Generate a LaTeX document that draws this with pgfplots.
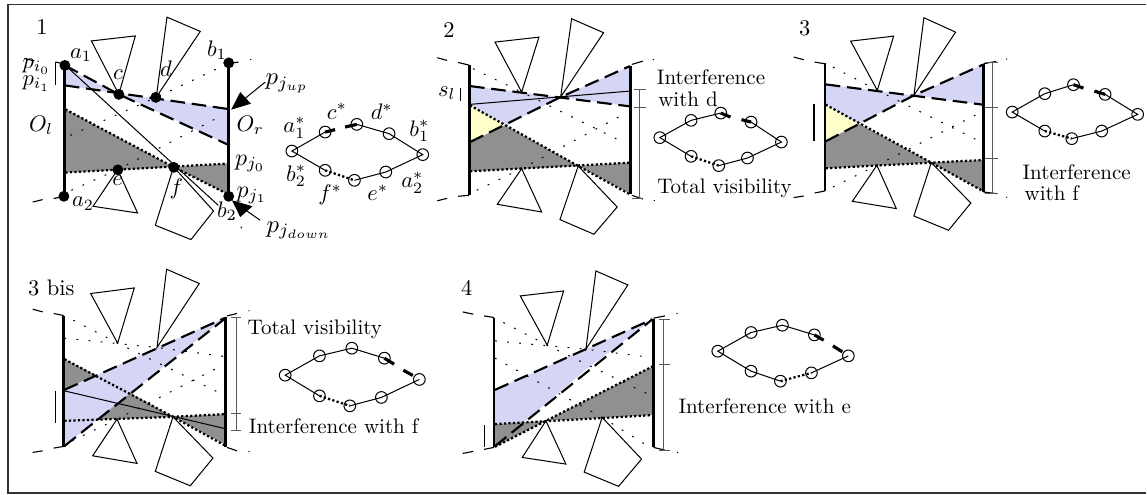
\documentclass[border=0pt]{standalone}
\usepackage{pgfplots}
\pgfplotsset{compat=1.18}
\definecolor{vblue}{RGB}{213,213,245}
\definecolor{vgray}{RGB}{144,144,144}
\definecolor{vyellow}{RGB}{255,255,204}
\tikzset{
  wall/.style={black,line width=1.3pt},
  thin line/.style={black,line width=0.45pt},
  brack/.style={black!65,line width=0.5pt},
  dash line/.style={black,line width=0.95pt,dash pattern=on 6.5pt off 3pt},
  dot line/.style={black,line width=1pt,dash pattern=on 1pt off 1pt},
  sparse/.style={black,line width=0.45pt,dash pattern=on 0.8pt off 4.6pt},
  stub/.style={black,line width=0.5pt},
  thick dash/.style={black,line width=1.4pt},
  lbl/.style={inner sep=0pt,anchor=center},
  txt/.style={inner sep=0pt,anchor=west,scale=0.935},
  plabel/.style={inner sep=0pt,anchor=west,scale=1.1},
}
\begin{document}
\begin{tikzpicture}
\begin{axis}[
  scale only axis,
  width=509.8pt,
  height=219.6pt,
  xmin=0,xmax=1147,
  ymin=0,ymax=494,
  y dir=reverse,
  hide axis,
  clip=false,
]
% page background and frame
\addplot[white,fill=white] coordinates {(0,0) (1147,0) (1147,494) (0,494)} -- cycle;
\addplot[black!80,line width=0.55pt] coordinates {(1147,4) (7.5,4) (7.5,493) (1147,493)};

% ---- panel 1 ----
\addplot[fill=vblue,draw=none] coordinates {(65,68) (118,93) (227,108) (227,144) (118,93) (65,85)} -- cycle;
\addplot[fill=vgray,draw=none] coordinates {(65,109) (65,172.3) (173.3,166.7) (226.7,163.3) (226.7,193.3) (173.3,166.7)} -- cycle;
\addplot[thin line] coordinates {(91,40.5) (135,35.5) (118.5,94)} -- cycle;
\addplot[thin line] coordinates {(166.7,16.7) (200,31) (156,96.7)} -- cycle;
\addplot[thin line] coordinates {(117.3,169.3) (92.7,206) (137.3,212.7)} -- cycle;
\addplot[thin line] coordinates {(173.3,166.7) (213.3,210.7) (190.7,239.3) (155,225)} -- cycle;
\addplot[sparse] coordinates {(70,135) (156,97) (226,64)};
\addplot[sparse] coordinates {(71,190) (117.3,169.3) (222,115)};
\addplot[sparse] coordinates {(233,217) (245,232)};
\addplot[dash line] coordinates {(64.5,65) (118.5,94) (227,144)};
\addplot[dash line] coordinates {(64.5,85) (227,108.5)};
\addplot[dot line] coordinates {(65,109) (173.3,166.7) (227,193.5)};
\addplot[dot line] coordinates {(65,172.3) (227,163.3)};
\addplot[thin line] coordinates {(65,65) (218,205)};
\addplot[wall] coordinates {(64,65) (64,196)};
\addplot[wall] coordinates {(228.3,62.7) (228.3,196)};
\addplot[stub] coordinates {(24,58) (34,60.5)};
\addplot[stub] coordinates {(55,61.7) (63.3,63.3)};
\addplot[stub] coordinates {(32.3,201.7) (42.3,199.3)};
\addplot[stub] coordinates {(53.3,198.3) (63.3,196)};
\addplot[stub] coordinates {(230,62.7) (238.3,61.7)};
\addplot[sparse] coordinates {(250,59) (251,58.8)};
\addplot[thin line] coordinates {(55,62) (55,85)};
\addplot[only marks,mark=*,mark size=2.2pt,black] coordinates {(64.5,65) (63.5,196) (228.5,62.5) (228.5,196) (118.5,94) (155.5,97) (117.5,169.5) (173.5,167)};
\addplot[thin line] coordinates {(265,81.7) (235,106)};
\addplot[fill=black,draw=none] coordinates {(231,109.3) (240,91.7) (250.7,103.3)} -- cycle;
\addplot[thin line] coordinates {(260,220) (240,206)};
\addplot[fill=black,draw=none] coordinates {(231.7,200) (252.3,206) (240,216.7)} -- cycle;
% dual of panel 1
\addplot[thin line] coordinates {(325,131.7) (291.7,150.7) (325,170)};
\addplot[thin line] coordinates {(356.7,124) (389,133.3) (422.7,154.3) (385.7,171.7) (354.3,180)};
\addplot[thick dash] coordinates {(325,131.7) (335,129.3)};
\addplot[thick dash] coordinates {(345,126.7) (356.7,124)};
\addplot[dot line] coordinates {(325,170) (354.3,180)};
\addplot[only marks,mark=o,mark size=2.6pt,black,mark options={line width=0.45pt}] coordinates {(291.7,150.7) (325,131.7) (356.7,124) (389,133.3) (422.7,154.3) (385.7,171.7) (354.3,180) (325,170)};

% ---- panel 2 ----
\addplot[fill=vblue,draw=none] coordinates {(470,85.7) (560.7,96.7) (630,65.7) (630,106) (560.7,96.7) (506,125) (470,105)} -- cycle;
\addplot[fill=vyellow,draw=none] coordinates {(470,105) (505,125) (470,141.7)} -- cycle;
\addplot[fill=vgray,draw=none] coordinates {(470,141.7) (505,125) (578.3,165.7) (630,193.3) (630,162.3) (578.3,165.7) (470,171)} -- cycle;
\addplot[thin line] coordinates {(495,41.7) (539,36.7) (521.7,91.7)} -- cycle;
\addplot[thin line] coordinates {(571.7,18.3) (603.7,32.3) (560.7,96.7)} -- cycle;
\addplot[thin line] coordinates {(521.7,168.3) (497.3,204) (541.7,211.7)} -- cycle;
\addplot[thin line] coordinates {(578.3,165.7) (617.3,206.7) (594,234) (560,219.3)} -- cycle;
\addplot[sparse] coordinates {(473,68.3) (521.7,91.7) (625,142.7)};
\addplot[sparse] coordinates {(476.7,190) (521.7,168.3) (625,113.3)};
\addplot[dash line] coordinates {(470,85.7) (630,106)};
\addplot[dash line] coordinates {(470,141.7) (560.7,96.7) (630,65.7)};
\addplot[dot line] coordinates {(470,105) (578.3,165.7) (630,194)};
\addplot[dot line] coordinates {(470,171) (630,162.3)};
\addplot[thin line] coordinates {(470,104) (630,90.7)};
\addplot[wall] coordinates {(469.3,65) (469.3,195)};
\addplot[wall] coordinates {(630.7,65.7) (630.7,194)};
\addplot[stub] coordinates {(437.3,57.3) (447,60)};
\addplot[stub] coordinates {(458,62) (469,64.7)};
\addplot[stub] coordinates {(437.3,200.5) (447,198)};
\addplot[stub] coordinates {(458,196) (469,195)};
\addplot[stub] coordinates {(632,64) (643,60.7)};
\addplot[stub] coordinates {(632,195) (643,198.7)};
\addplot[sparse] coordinates {(653,59.3) (654,59)};
\addplot[sparse] coordinates {(654,200) (655,200.3)};
\addplot[brack] coordinates {(639.3,89.3) (639.3,198)};
\addplot[brack] coordinates {(634,89.3) (646,89.3)};
\addplot[brack] coordinates {(634,107.3) (646,107.3)};
\addplot[brack] coordinates {(632,198) (642,198)};
\addplot[thin line] coordinates {(460,88) (460,101)};
% dual of panel 2
\addplot[thin line] coordinates {(721,112.7) (691.3,120) (660,137.3) (691.3,156)};
\addplot[thin line] coordinates {(751.3,121.7) (781.7,141.7) (747.7,157.7) (719,165.3)};
\addplot[thick dash] coordinates {(721,112.7) (730.7,116.7)};
\addplot[thick dash] coordinates {(741.7,119.3) (751.3,121.7)};
\addplot[dot line] coordinates {(691.3,156) (719,165.3)};
\addplot[only marks,mark=o,mark size=2.6pt,black,mark options={line width=0.45pt}] coordinates {(660,137.3) (691.3,120) (721,112.7) (751.3,121.7) (781.7,141.7) (747.7,157.7) (719,165.3) (691.3,156)};

% ---- panel 3 ----
\addplot[fill=vblue,draw=none] coordinates {(826,84) (914.3,95) (983.3,64.3) (983.3,104.3) (914.3,95) (859.3,123.3) (826,104.3)} -- cycle;
\addplot[fill=vyellow,draw=none] coordinates {(826,104.3) (859.3,123.3) (826,141)} -- cycle;
\addplot[fill=vgray,draw=none] coordinates {(826,141) (859.3,123.3) (931.7,162.3) (983.3,190.7) (983.3,159.7) (931.7,162.3) (826,168)} -- cycle;
\addplot[thin line] coordinates {(851,40.7) (894,35.7) (877.7,90)} -- cycle;
\addplot[thin line] coordinates {(924.3,17.3) (956,31.7) (914.3,95)} -- cycle;
\addplot[thin line] coordinates {(877.3,165) (852.7,201) (896.7,208.3)} -- cycle;
\addplot[thin line] coordinates {(931.7,162.3) (971.3,202.7) (949,230) (914.3,215.7)} -- cycle;
\addplot[sparse] coordinates {(833.3,66.7) (877.7,90) (981.7,141.7)};
\addplot[sparse] coordinates {(833.3,186.7) (877.3,165) (981.7,111.7)};
\addplot[dash line] coordinates {(826,84) (983.3,104.3)};
\addplot[dash line] coordinates {(826,141) (914.3,95) (983.3,64.3)};
\addplot[dot line] coordinates {(826,104.3) (931.7,162.3) (983.3,190.7)};
\addplot[dot line] coordinates {(826,168) (931.7,162.3) (983.3,159.7)};
\addplot[wall] coordinates {(825.3,62.7) (825.3,190.7)};
\addplot[wall] coordinates {(984,63.3) (984,191.7)};
\addplot[stub] coordinates {(794,56.7) (804,59.3)};
\addplot[stub] coordinates {(815,61.7) (825,63.3)};
\addplot[stub] coordinates {(794,197.3) (804,195.7)};
\addplot[stub] coordinates {(815,192.7) (825,190.7)};
\addplot[stub] coordinates {(984,63.3) (996.7,61)};
\addplot[stub] coordinates {(984,191.7) (996.7,193.3)};
\addplot[sparse] coordinates {(1006.7,58.7) (1007.7,58.5)};
\addplot[sparse] coordinates {(1006.7,196.7) (1007.7,197)};
\addplot[brack] coordinates {(992.7,62) (992.7,193)};
\addplot[brack] coordinates {(985,62) (998.3,62)};
\addplot[brack] coordinates {(985,106.7) (998.3,106.7)};
\addplot[brack] coordinates {(985,158.3) (998.3,158.3)};
\addplot[brack] coordinates {(985,193) (998.3,193)};
\addplot[thin line] coordinates {(814.3,103.3) (814.3,141)};
% dual of panel 3
\addplot[thin line] coordinates {(1074,84.3) (1045.3,93.3) (1012.7,111.7) (1045.3,130.7)};
\addplot[thin line] coordinates {(1105.7,94) (1138.3,114) (1102.3,130.7) (1072.3,138.3)};
\addplot[thick dash] coordinates {(1074,84.3) (1084,87.7)};
\addplot[thick dash] coordinates {(1095,90.7) (1105.7,94)};
\addplot[dot line] coordinates {(1045.3,130.7) (1072.3,138.3)};
\addplot[only marks,mark=o,mark size=2.6pt,black,mark options={line width=0.45pt}] coordinates {(1012.7,111.7) (1045.3,93.3) (1074,84.3) (1105.7,94) (1138.3,114) (1102.3,130.7) (1072.3,138.3) (1045.3,130.7)};

% ---- panel 3 bis ----
\addplot[fill=vblue,draw=none] coordinates {(64,389.7) (156.7,347.3) (224,318) (130,393) (96.7,419.7) (64,445.7)} -- cycle;
\addplot[fill=vgray,draw=none] coordinates {(64,359) (64,389.7) (95,374.7)} -- cycle;
\addplot[fill=vgray,draw=none] coordinates {(130,393) (172.7,416.7) (96.7,419.7)} -- cycle;
\addplot[fill=vgray,draw=none] coordinates {(172.7,416.7) (224,414) (224,444)} -- cycle;
\addplot[thin line] coordinates {(90.3,293.3) (134,287.7) (117.3,343)} -- cycle;
\addplot[thin line] coordinates {(166.3,269) (199,283.3) (156.7,347.3)} -- cycle;
\addplot[thin line] coordinates {(116.7,419) (92.3,455.7) (136.7,463.3)} -- cycle;
\addplot[thin line] coordinates {(172.7,416.7) (212.7,458) (190,485.7) (155,471.3)} -- cycle;
\addplot[sparse] coordinates {(73,320) (117.3,343) (222,394)};
\addplot[sparse] coordinates {(64,338) (156.7,347.3) (224,356.3)};
\addplot[sparse] coordinates {(71.7,440.7) (116.7,419) (218,367.3)};
\addplot[dash line] coordinates {(64,389.7) (224,318)};
\addplot[dash line] coordinates {(64,446) (224,319)};
\addplot[dot line] coordinates {(64,359) (172.7,416.7) (224,445)};
\addplot[dot line] coordinates {(64,420.7) (172.7,416.7) (224,414)};
\addplot[thin line] coordinates {(64,390.7) (224,428.3)};
\addplot[wall] coordinates {(63.3,315.7) (63.3,446.7)};
\addplot[wall] coordinates {(225.7,316.7) (225.7,447.3)};
\addplot[stub] coordinates {(32.3,309) (42.3,311.7)};
\addplot[stub] coordinates {(53.3,313.3) (63.3,315.3)};
\addplot[stub] coordinates {(32.3,452.3) (42.3,450.7)};
\addplot[stub] coordinates {(53.3,448) (63.3,446.3)};
\addplot[stub] coordinates {(226.7,315.7) (236.7,313.3)};
\addplot[stub] coordinates {(226.7,447.3) (236.7,450.7)};
\addplot[sparse] coordinates {(248.3,310.7) (249.3,310.5)};
\addplot[sparse] coordinates {(248.3,451.3) (249.3,451.6)};
\addplot[brack] coordinates {(236,317.3) (236,430.7)};
\addplot[brack] coordinates {(231,317.3) (241,317.3)};
\addplot[brack] coordinates {(231,413) (241,413)};
\addplot[brack] coordinates {(231,430.7) (241,430.7)};
\addplot[thin line] coordinates {(55,390.7) (55,423.3)};
% dual of panel 3 bis
\addplot[thin line] coordinates {(384.3,358) (351.7,348) (319.3,355.7) (285,375) (319.3,395.7)};
\addplot[thin line] coordinates {(349.7,405.7) (381.3,397.3) (419.3,379.3)};
\addplot[thick dash] coordinates {(384.3,358) (394,364)};
\addplot[thick dash] coordinates {(403.3,370) (412.7,375.3)};
\addplot[dot line] coordinates {(319.3,395.7) (349.7,405.7)};
\addplot[only marks,mark=o,mark size=2.6pt,black,mark options={line width=0.45pt}] coordinates {(285,375) (319.3,355.7) (351.7,348) (384.3,358) (419.3,379.3) (381.3,397.3) (349.7,405.7) (319.3,395.7)};

% ---- panel 4 ----
\addplot[fill=vblue,draw=none] coordinates {(495,389.7) (586,349) (652.7,319) (586.7,369) (523.3,422.3) (495,423.3)} -- cycle;
\addplot[fill=vgray,draw=none] coordinates {(495,424) (546,420.7) (495,446.7)} -- cycle;
\addplot[fill=vgray,draw=none] coordinates {(546,420.7) (652.7,366.3) (652.7,415)} -- cycle;
\addplot[thin line] coordinates {(520.3,295.7) (563.7,290.7) (547.3,345)} -- cycle;
\addplot[thin line] coordinates {(596,270.7) (628,284.7) (586,349)} -- cycle;
\addplot[thin line] coordinates {(546,420.7) (522.3,457.3) (566,464)} -- cycle;
\addplot[thin line] coordinates {(602.3,417.3) (641.7,459) (618.7,486.3) (584.3,472)} -- cycle;
\addplot[sparse] coordinates {(503.3,322.3) (547.3,345) (651.7,395.7)};
\addplot[sparse] coordinates {(495,340.7) (586,349) (651.7,357.3)};
\addplot[sparse] coordinates {(495,358) (602.3,417.3) (645,444)};
\addplot[dash line] coordinates {(495,389.7) (652.7,319)};
\addplot[dash line] coordinates {(495,446) (652.7,319)};
\addplot[dot line] coordinates {(495,424) (652.7,415)};
\addplot[dot line] coordinates {(495,446.7) (546,420.7) (652.7,366.3)};
\addplot[wall] coordinates {(494,318) (494,447.3)};
\addplot[wall] coordinates {(653.7,319) (653.7,447.3)};
\addplot[stub] coordinates {(462.7,311.7) (473.3,314)};
\addplot[stub] coordinates {(484,315.7) (494,317.3)};
\addplot[stub] coordinates {(462.7,453.3) (473.3,451.3)};
\addplot[stub] coordinates {(484,449.3) (494,447.3)};
\addplot[stub] coordinates {(653.7,318) (665,315.7)};
\addplot[stub] coordinates {(653.7,447.3) (665,450)};
\addplot[sparse] coordinates {(676.7,313.3) (677.7,313.1)};
\addplot[sparse] coordinates {(677.3,452.3) (678.3,452.6)};
\addplot[brack] coordinates {(664,319) (664,450)};
\addplot[brack] coordinates {(659,319) (670,319)};
\addplot[brack] coordinates {(659,364) (670,364)};
\addplot[brack] coordinates {(659,450) (670,450)};
\addplot[thin line] coordinates {(484.3,425) (484.3,447.3)};
% dual of panel 4
\addplot[thin line] coordinates {(814.7,334.7) (782.7,325) (751.3,332.3) (718,351) (751.3,371) (780.7,381)};
\addplot[thin line] coordinates {(811.7,372.7) (848.7,355.7)};
\addplot[thick dash] coordinates {(814.7,334.7) (824,340)};
\addplot[thick dash] coordinates {(833.3,345.7) (842.7,351.7)};
\addplot[dot line] coordinates {(780.7,381) (811.7,372.7)};
\addplot[only marks,mark=o,mark size=2.6pt,black,mark options={line width=0.45pt}] coordinates {(718,351) (751.3,332.3) (782.7,325) (814.7,334.7) (848.7,355.7) (811.7,372.7) (780.7,381) (751.3,371)};

% ---- text ----
\node[lbl] at (axis cs:41.7,26.7) {1};
\node[lbl] at (axis cs:449,30) {2};
\node[lbl] at (axis cs:805,28) {3};
\node[inner sep=0pt,anchor=west] at (axis cs:27.3,287.3) {3 bis};
\node[lbl] at (axis cs:466.7,287.3) {4};
\node[lbl] at (axis cs:80.7,55) {$a_1$};
\node[lbl] at (axis cs:82.7,203.3) {$a_2$};
\node[lbl] at (axis cs:216.7,50) {$b_1$};
\node[lbl] at (axis cs:226.7,210.7) {$b_2$};
\node[lbl] at (axis cs:117.7,74) {$c$};
\node[lbl] at (axis cs:165.7,68.3) {$d$};
\node[lbl] at (axis cs:117.3,180) {$e$};
\node[lbl] at (axis cs:176,188.3) {$f$};
\node[lbl] at (axis cs:40.7,125) {$O_l$};
\node[lbl] at (axis cs:250,125) {$O_r$};
\node[lbl] at (axis cs:36,66) {$p_{i_0}$};
\node[lbl] at (axis cs:36,83) {$p_{i_1}$};
\node[lbl,scale=1.06] at (axis cs:250,163.3) {$p_{j_0}$};
\node[lbl,scale=1.06] at (axis cs:251.7,195) {$p_{j_1}$};
\node[plabel] at (axis cs:265,83.3) {$p_{j_{up}}$};
\node[plabel] at (axis cs:266,230) {$p_{j_{down}}$};
\node[lbl] at (axis cs:294.3,127.3) {$a_1^*$};
\node[lbl] at (axis cs:336.7,111) {$c^*$};
\node[lbl] at (axis cs:381.7,111) {$d^*$};
\node[lbl] at (axis cs:419.3,130.7) {$b_1^*$};
\node[lbl] at (axis cs:296,175.7) {$b_2^*$};
\node[lbl] at (axis cs:330,195) {$f^*$};
\node[lbl] at (axis cs:377.7,192.7) {$e^*$};
\node[lbl] at (axis cs:412.3,182.3) {$a_2^*$};
\node[lbl] at (axis cs:446.7,92.7) {$s_l$};
\node[txt] at (axis cs:656.7,77) {Interference};
\node[txt] at (axis cs:658,99) {with d};
\node[txt] at (axis cs:657,188) {Total visibility};
\node[txt] at (axis cs:1022.7,171.7) {Interference};
\node[txt] at (axis cs:1024.7,193.3) {with f};
\node[txt] at (axis cs:247,329) {Total visibility};
\node[txt] at (axis cs:248.3,425.7) {Interference with f};
\node[txt] at (axis cs:678.3,405.7) {Interference with e};
\end{axis}
\end{tikzpicture}
\end{document}
